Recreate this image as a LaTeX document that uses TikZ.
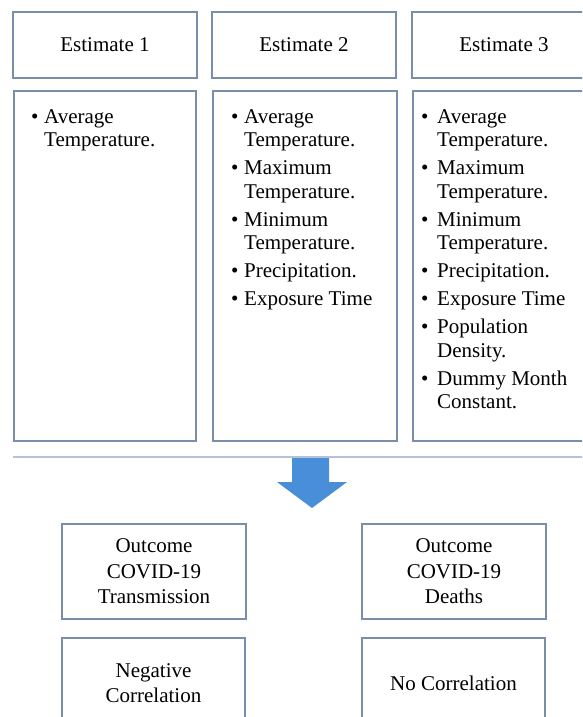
\documentclass[tikz,border=0pt]{standalone}
\usepackage{fontspec}
\setmainfont{Liberation Serif}
\definecolor{boxline}{RGB}{122,142,168}
\definecolor{sepline}{RGB}{178,196,214}
\definecolor{arrowblue}{RGB}{72,142,216}
\newlength{\bhang}
\setlength{\bhang}{13pt}
\newcommand{\bitem}[1]{\par\hangindent=\bhang\hangafter=1\noindent\makebox[\bhang][l]{\textbullet}#1}
\newcommand{\blist}[1]{\parbox[t]{170pt}{\raggedright\setlength{\parskip}{4.5pt}\fontsize{21}{23.5}\selectfont #1}}
\tikzset{
  box/.style={draw=boxline, line width=1.8pt, fill=white, inner sep=0pt, align=center,
              font=\fontsize{21}{25.5}\selectfont},
  listtext/.style={anchor=base west, inner sep=0pt},
}
\begin{document}
\begin{tikzpicture}[x=1pt,y=-1pt]
\clip (0,0) rectangle (582,717);
\fill[white] (0,0) rectangle (582,717);
% headers
\node[box, minimum width=184pt, minimum height=66pt] (h1) at (105,45) {Estimate 1};
\node[box, minimum width=184pt, minimum height=66pt] (h2) at (304,45) {Estimate 2};
\node[box, minimum width=184pt, minimum height=66pt] (h3) at (504,45) {Estimate 3};
% bodies
\node[box, minimum width=182pt, minimum height=350pt] (b1) at (105,266) {};
\node[box, minimum width=184pt, minimum height=350pt] (b2) at (305,266) {};
\node[box, minimum width=184pt, minimum height=350pt] (b3) at (505,266) {};
\node[listtext] (l1) at (31,123) {\blist{\bitem{Average\newline Temperature.}}};
\node[listtext] (l2) at (231,123) {\blist{%
\bitem{Average\newline Temperature.}
\bitem{Maximum\newline Temperature.}
\bitem{Minimum\newline Temperature.}
\bitem{Precipitation.}
\bitem{Exposure Time}}};
\node[listtext] (l3) at (421,123) {\setlength{\bhang}{16pt}\blist{%
\bitem{Average\newline Temperature.}
\bitem{Maximum\newline Temperature.}
\bitem{Minimum\newline Temperature.}
\bitem{Precipitation.}
\bitem{Exposure Time}
\bitem{Population\newline Density.}
\bitem{Dummy Month\newline Constant.}}};
% separator
\coordinate (s1) at (13,457);
\coordinate (s2) at (600,457);
\draw[sepline, line width=1.5pt] (s1) -- (s2);
% block arrow
\fill[arrowblue] (292,458) -- (329,458) -- (329,482) -- (347,482) -- (312,508)
  -- (277,482) -- (292,482) -- cycle;
% outcomes
\node[box, minimum width=184pt, minimum height=95pt] (o1) at (154,571.5) {Outcome\\COVID-19\\Transmission};
\node[box, minimum width=184pt, minimum height=95pt] (o2) at (454,571.5) {Outcome\\COVID-19\\Deaths};
\node[box, minimum width=183pt, minimum height=90pt] (n1) at (153.5,683) {Negative\\Correlation};
\node[box, minimum width=183pt, minimum height=90pt] (n2) at (453.5,683) {No Correlation};
\end{tikzpicture}
\end{document}
